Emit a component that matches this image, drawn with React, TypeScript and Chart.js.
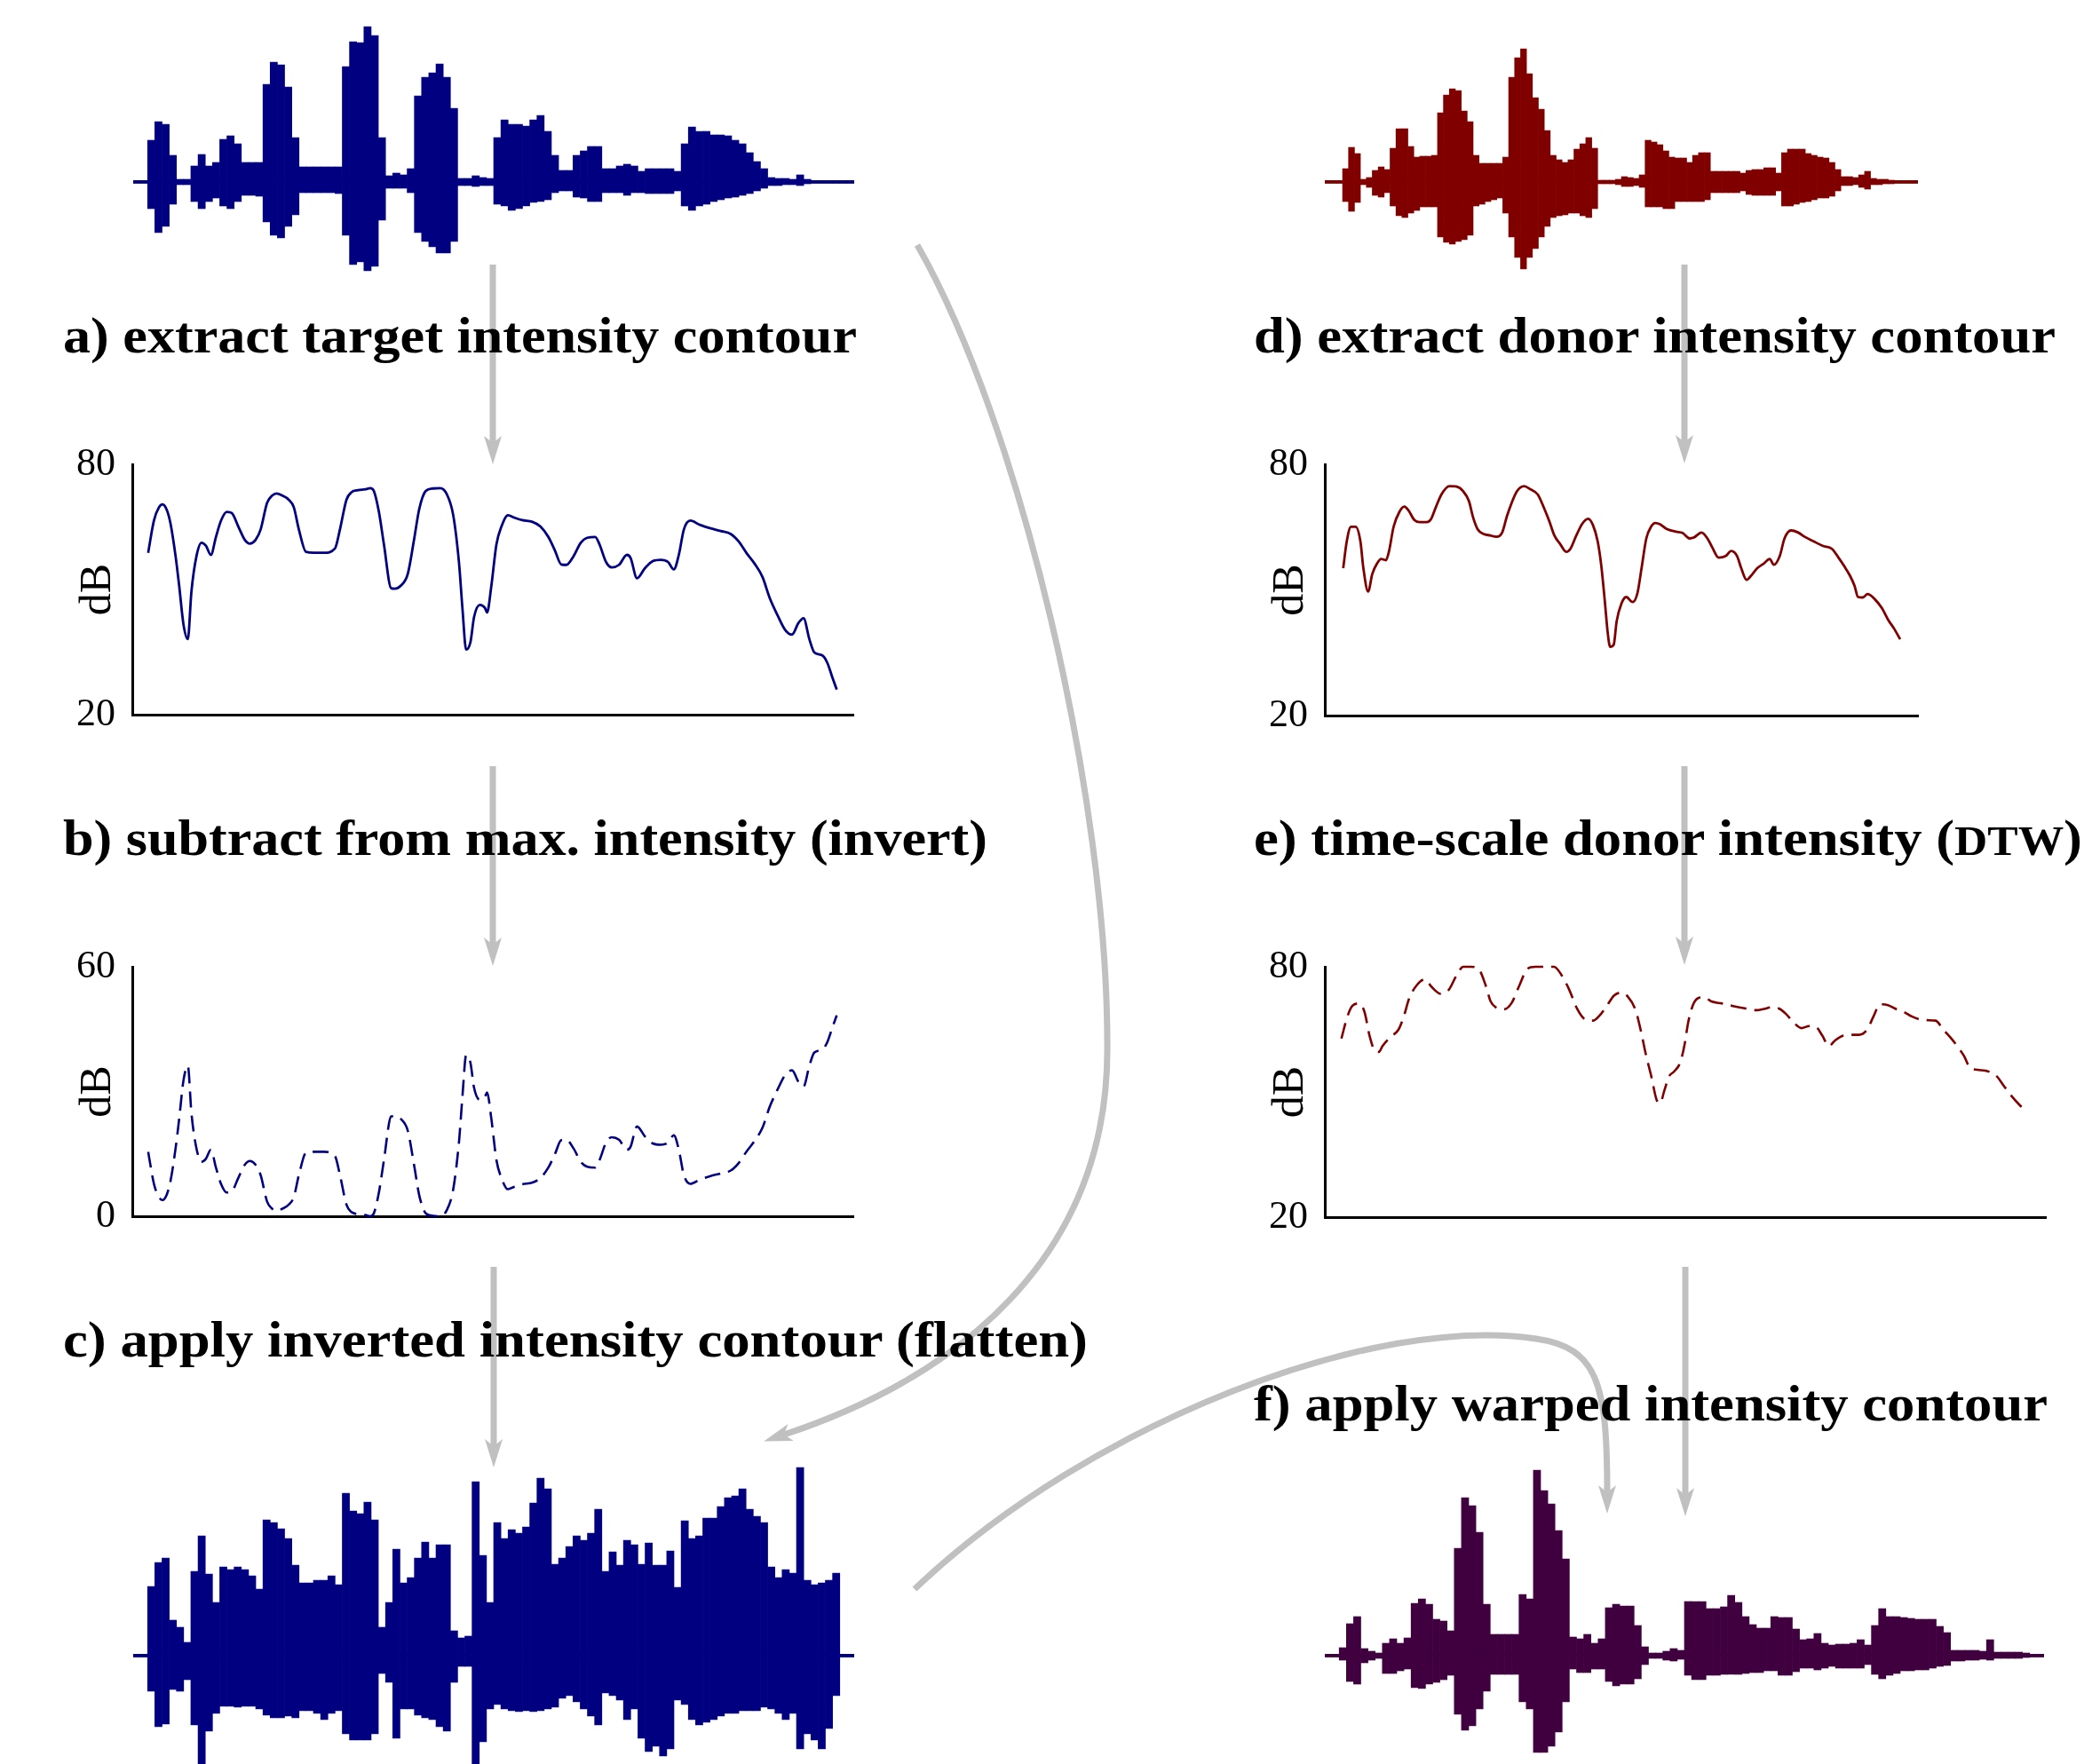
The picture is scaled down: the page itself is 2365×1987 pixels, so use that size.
import React, { useEffect, useRef } from 'react';
import { Chart, registerables } from 'chart.js';

Chart.register(...registerables);

const NAVY = '#000080';
const MAROON = '#800000';
const PURPLE = '#400040';
const ARROW = '#c0c0c0';
const SERIF = "'Liberation Serif', 'Times New Roman', serif";

// ---------- waveform envelopes (amplitude above / below the zero line, per time slot) ----------
const TL_UP = [1.5,1.5,47,68,65,30,3,3,18,31,18,22,48,52,43,22,22,22,110,135,132,107,50,17,17,17,17,17,17,130,158,157,175,165,50,7,10,8,15,97,118,123,133,118,83,4,4,7,5,4,50,70,65,65,63,70,75,57,30,13,13,30,35,40,40,15,15,18,20,18,12,15,15,15,15,12,43,62,57,57,53,53,52,47,43,33,23,15,5,4,4,3,8,3,1.5,1.5,1.5,1.5,1.5,1.5];
const TL_DOWN = [1.5,1.5,30,57,50,25,3,3,22,30,22,18,27,30,22,15,15,16,45,60,63,50,37,12,12,12,12,12,13,60,93,90,100,95,43,7,7,7,12,57,67,73,80,80,67,4,4,5,4,4,25,27,32,30,27,23,22,20,12,10,10,17,18,22,22,12,12,12,15,12,12,13,13,13,13,10,27,32,27,25,22,20,18,17,15,13,10,7,4,4,3,3,4,2,1.5,1.5,1.5,1.5,1.5,1.5];

const TR_UP = [1.5,1.5,1.5,15,39,32,3,5,13,17,14,38,60,60,40,28,29,29,30,78,98,105,103,80,68,30,21,21,21,21,28,118,140,150,122,95,82,58,30,25,22,25,37,43,50,38,2,2,2,3,6,5,4,8,47,45,42,35,28,27,27,22,30,33,33,12,12,12,12,12,10,13,14,14,16,16,10,33,37,37,37,32,30,28,27,22,14,6,6,5,8,12,4,3,3,2,1.5,1.5,1.5,1.5];
const TR_DOWN = [1.5,1.5,1.5,22,33,23,3,6,15,17,12,27,38,40,35,32,28,28,28,62,68,70,67,65,60,27,25,22,20,18,35,62,85,98,85,75,62,50,40,38,37,35,35,38,40,30,2,2,2,3,5,5,4,6,28,28,28,30,30,22,22,22,22,22,20,12,12,12,12,12,10,14,15,15,15,15,10,27,27,25,23,22,20,18,18,16,10,4,4,3,6,8,3,3,2,2,1.5,1.5,1.5,1.5];

const BL_UP = [1.5,1.5,78,105,110,40,32,15,95,135,92,60,100,97,100,97,90,75,153,150,143,132,102,82,82,85,85,90,80,183,163,160,173,153,32,60,120,82,88,110,128,110,125,125,28,20,22,196,113,60,150,132,142,138,145,172,200,188,103,110,123,135,130,138,165,95,117,102,130,125,103,127,102,102,118,77,152,132,135,155,155,168,178,180,188,165,157,150,100,88,97,93,212,85,80,82,85,93,1.5,1.5];
const BL_DOWN = [1.5,1.5,40,80,77,38,40,27,78,122,85,65,57,57,58,57,57,60,67,70,70,68,70,62,62,65,72,65,62,88,95,95,95,88,20,30,93,60,60,67,70,72,80,85,30,12,12,122,97,60,55,60,62,63,62,63,62,60,58,48,45,52,60,68,78,42,45,50,72,60,93,108,102,113,105,50,55,72,78,75,72,68,65,65,62,62,62,58,60,65,72,65,105,88,95,105,82,45,1.5,1.5];

const BR_UP = [1.5,1.5,9,36,44,8,5,3,14,19,14,20,59,64,58,41,39,28,121,178,169,139,58,24,24,24,24,69,64,209,186,171,141,109,21,19,24,14,19,54,58,56,56,34,10,3,3,5,8,6,61,61,61,53,53,55,68,60,44,35,31,31,44,43,43,30,18,19,25,14,12,13,13,14,18,12,34,53,44,44,43,42,41,41,41,33,26,6,6,6,6,5,18,4,4,4,4,3,1.5,1.5];
const BR_DOWN = [1.5,1.5,5,29,32,8,5,3,20,20,17,15,36,37,32,30,27,22,66,84,79,60,40,21,21,21,21,52,60,109,109,102,86,52,15,19,19,15,15,29,34,32,32,26,10,3,3,5,6,4,22,27,27,22,22,21,21,21,20,19,19,17,17,22,22,18,14,14,16,14,12,14,14,14,14,10,21,26,22,20,17,17,16,16,14,12,11,6,6,5,5,4,5,3,3,3,3,2,1.5,1.5];

// ---------- intensity contours (time in % of axis, level in dB) ----------
const A_T = [2.2,3.0,3.7,4.2,4.8,5.3,6.0,6.5,7.1,7.7,8.2,8.9,9.6,10.2,10.9,11.6,12.3,13.1,13.8,14.7,15.6,16.3,17.1,17.8,18.7,19.4,20.0,20.8,21.7,22.4,23.1,24.1,25.2,26.6,28.1,28.8,29.7,30.4,31.3,32.3,33.0,33.5,34.2,34.9,35.9,36.4,37.3,38.2,39.1,39.8,40.7,41.7,42.7,43.6,44.5,45.3,45.8,46.3,46.9,47.4,48.2,48.9,49.2,49.8,50.5,51.2,52.1,53.0,54.1,55.5,56.6,57.7,58.6,59.5,60.2,61.2,62.2,63.1,64.2,64.8,65.7,66.5,67.5,68.6,69.1,70.0,71.1,72.2,73.3,74.3,75.1,75.8,76.5,77.4,78.7,80.1,81.6,83.0,84.1,85.2,86.3,87.4,88.4,89.5,90.6,91.5,92.4,93.1,93.9,94.6,95.7,96.4,97.1,97.7];
const A_DB = [58.8,66.5,69.7,70.4,69.0,65.8,58.0,50.9,41.6,38.1,49.5,58.0,61.2,60.5,58.3,62.6,66.5,68.6,68.3,65.1,61.9,61.0,61.9,64.4,70.8,72.5,73.0,72.5,71.5,69.7,64.4,59.0,58.8,58.8,59.8,64.4,71.5,73.3,73.8,74.0,74.3,73.6,68.6,60.8,50.3,50.2,51.0,53.7,62.2,69.3,73.6,74.2,74.3,72.9,67.9,56.6,45.2,35.6,37.4,43.4,46.3,45.6,44.5,50.9,60.8,65.1,67.8,67.2,66.6,66.2,65.1,62.6,59.4,56.0,55.9,58.0,61.2,62.4,62.6,60.8,56.6,55.3,55.9,58.3,57.6,52.7,55.1,56.8,57.1,56.6,54.8,58.3,64.4,66.5,65.5,64.7,64.0,63.3,61.5,58.7,56.2,53.0,48.0,43.8,40.2,39.2,42.0,43.1,38.1,34.9,34.2,32.4,28.9,26.0];
const B_DB = [15.5,7.8,4.6,3.9,5.3,8.5,16.3,23.4,32.7,36.2,24.8,16.3,13.1,13.8,16.0,11.7,7.8,5.7,6.0,9.2,12.4,13.3,12.4,9.9,3.5,1.8,1.3,1.8,2.8,4.6,9.9,15.3,15.5,15.5,14.5,9.9,2.8,1.0,0.5,0.3,0.0,0.7,5.7,13.5,24.0,24.1,23.3,20.6,12.1,5.0,0.7,0.1,0.0,1.4,6.4,17.7,29.1,38.7,36.9,30.9,28.0,28.7,29.8,23.4,13.5,9.2,6.5,7.1,7.7,8.1,9.2,11.7,14.9,18.3,18.4,16.3,13.1,11.9,11.7,13.5,17.7,19.0,18.4,16.0,16.7,21.6,19.2,17.5,17.2,17.7,19.5,16.0,9.9,7.8,8.8,9.6,10.3,11.0,12.8,15.6,18.1,21.3,26.3,30.5,34.1,35.1,32.3,31.2,36.2,39.4,40.1,41.9,45.4,48.3];

const D_T = [3.1,3.7,4.4,5.2,6.0,6.5,7.3,8.0,8.8,9.5,10.3,10.8,11.6,12.6,13.4,14.1,15.1,16.0,17.2,17.9,18.7,19.7,21.0,22.1,23.3,24.3,25.0,25.8,26.7,27.9,28.9,29.9,30.7,31.5,32.4,33.6,34.7,35.9,37.0,37.8,38.7,39.7,40.7,41.4,42.4,43.4,44.4,45.2,46.0,46.6,47.2,47.7,48.1,48.7,49.2,50.0,50.8,51.9,52.7,53.4,54.2,55.0,55.7,56.5,57.6,59.2,60.3,61.5,62.2,63.5,64.5,65.3,66.4,67.6,68.5,69.5,70.2,71.1,72.1,72.9,74.0,75.0,75.7,76.7,77.5,78.6,79.8,80.9,82.4,84.0,85.5,86.6,87.6,88.5,89.3,89.9,90.7,91.5,92.7,93.9,95.0,96.0,97.0];
const D_DB = [55.2,61.6,65.1,65.1,61.6,55.2,49.6,53.8,56.3,57.4,57.1,59.1,65.1,68.7,69.9,69.0,66.7,66.2,66.2,66.9,69.7,72.9,74.8,74.7,73.6,71.2,67.3,64.4,63.4,63.0,62.7,63.7,67.6,70.8,73.6,74.8,74.0,72.8,69.4,66.6,63.0,60.9,59.1,59.8,63.0,65.8,67.0,65.5,61.6,55.9,47.4,39.7,36.4,36.9,42.5,46.7,48.3,47.1,49.2,55.2,62.3,65.1,66.0,65.7,64.6,63.9,63.6,62.3,62.5,63.7,62.3,60.2,57.7,58.1,59.3,58.1,55.2,52.4,53.8,55.2,56.3,57.4,56.0,58.1,62.3,64.2,63.7,62.7,61.6,60.5,59.8,57.7,55.6,53.5,51.0,48.3,48.2,49.0,47.8,45.7,42.8,40.7,38.2];

const E_T = [2.3,3.1,3.8,4.7,5.5,6.2,6.9,7.5,8.0,9.1,10.2,10.9,11.7,12.8,13.9,14.8,16.1,17.2,18.2,19.2,20.2,21.3,22.3,23.0,23.7,24.8,25.9,27.0,28.1,29.2,30.7,31.8,32.8,33.9,35.0,36.1,37.2,38.0,39.1,40.1,41.1,42.0,43.1,43.8,44.5,45.3,46.0,46.5,47.1,47.7,48.5,49.3,49.9,50.4,51.1,51.8,52.6,53.6,55.1,56.6,58.4,59.9,60.9,62.0,63.1,63.9,65.0,66.1,67.2,68.1,69.0,69.9,70.8,71.9,73.0,74.1,75.2,76.1,77.0,78.1,79.2,80.3,81.4,82.5,83.6,84.7,85.8,86.9,88.0,88.7,89.4,90.5,91.6,93.1,94.2,95.3,96.4,97.1];
const E_DB = [62.8,67.9,70.6,71.2,69.2,63.5,60.0,59.6,61.0,63.2,64.9,67.8,72.4,75.7,77.0,75.2,73.5,74.5,77.7,80,80,79.5,75.6,71.7,70.3,69.8,71.3,75.6,79.5,80,80,80,78.1,74.5,69.9,67.4,67.1,68.1,70.6,73.1,73.8,72.9,69.6,64.9,59.2,53.6,48.2,47.3,50.4,53.6,55.0,57.1,61.4,66.7,71.0,72.5,72.7,71.7,71.2,70.6,70.0,69.6,69.9,70.3,69.9,68.8,66.7,65.3,65.8,65.6,63.5,61.0,62.4,63.5,63.7,63.7,64.9,68.1,71.0,70.8,69.9,69.2,68.1,67.4,67.2,67.1,64.9,62.8,60.3,58.5,56.0,55.3,55.1,53.9,51.4,48.9,46.8,45.7];

// ---------- step captions ----------
const LABELS = [
  { id: 'a', x: 71, y: 397, w: 894, parts: ['a) extract target intensity contour'] },
  { id: 'b', x: 71, y: 963, w: 1041, parts: ['b) subtract from max. intensity (invert)'] },
  { id: 'c', x: 71, y: 1528, w: 1154, parts: ['c) apply inverted intensity contour (flatten)'] },
  { id: 'd', x: 1412, y: 397, w: 903, parts: ['d) extract donor intensity contour'] },
  { id: 'e', x: 1412, y: 963, w: 933, parts: ['e) time-scale donor intensity (', 'DTW', ')'] },
  { id: 'f', x: 1412, y: 1600, w: 894, parts: ['f) apply warped intensity contour'] },
];

// ---------- gray connector arrows ----------
const ARROW_PATHS = [
  'M555 298 V499',
  'M555 863 V1064',
  'M556 1427 V1629',
  'M1897 298 V498',
  'M1897 863 V1063',
  'M1898 1427 V1684',
  'M1033 276 C1150 480 1247 900 1247 1176 C1250 1420 1073 1553 883 1616',
  'M1030 1790 C1230 1600 1550 1480 1730 1508 C1800 1518 1810 1560 1810 1681',
];

function waveChart(up: number[], down: number[], color: string, yMin: number, yMax: number): any {
  return {
    type: 'bar',
    data: {
      labels: up.map((_, i) => String(i)),
      datasets: [
        {
          data: up.map((u, i) => [-down[i], u]),
          backgroundColor: color,
          borderWidth: 0,
          barPercentage: 1,
          categoryPercentage: 1,
        },
      ],
    },
    options: {
      animation: false,
      responsive: false,
      maintainAspectRatio: false,
      events: [],
      layout: { padding: 0 },
      plugins: { legend: { display: false }, tooltip: { enabled: false } },
      scales: {
        x: { display: false },
        y: {
          display: true,
          min: yMin,
          max: yMax,
          ticks: { display: false, stepSize: -yMin },
          border: { display: false },
          grid: {
            drawTicks: false,
            lineWidth: 3.2,
            color: (ctx: any) => (ctx.tick && ctx.tick.value === 0 ? color : 'rgba(0,0,0,0)'),
          },
          afterFit: (s: any) => {
            s.width = 0;
          },
        },
      },
    },
  };
}

function lineChart(
  xs: number[],
  ys: number[],
  color: string,
  dashed: boolean,
  yMin: number,
  yMax: number,
  padV: number,
  padRight: number,
  yWidth: number
): any {
  return {
    type: 'line',
    data: {
      datasets: [
        {
          data: xs.map((x, i) => ({ x, y: ys[i] })),
          borderColor: color,
          borderWidth: dashed ? 2.6 : 2.8,
          borderDash: dashed ? [18, 9] : [],
          pointRadius: 0,
          fill: false,
          cubicInterpolationMode: 'monotone',
          clip: false,
        },
      ],
    },
    options: {
      animation: false,
      responsive: false,
      maintainAspectRatio: false,
      events: [],
      layout: { padding: { top: padV, right: padRight, bottom: padV, left: 0 } },
      plugins: { legend: { display: false }, tooltip: { enabled: false } },
      scales: {
        x: {
          type: 'linear',
          min: 0,
          max: 100,
          ticks: { display: false },
          grid: { display: false, drawTicks: false },
          border: { display: true, color: '#000', width: 3 },
          afterFit: (s: any) => {
            s.height = 0;
          },
        },
        y: {
          type: 'linear',
          min: yMin,
          max: yMax,
          ticks: {
            stepSize: yMax - yMin,
            color: '#000',
            padding: 19,
            font: { family: SERIF, size: 44 },
          },
          grid: { display: false, drawTicks: false },
          border: { display: true, color: '#000', width: 3 },
          title: {
            display: true,
            text: 'dB',
            color: '#000',
            padding: { top: 31, bottom: 0 },
            font: { family: SERIF, size: 50 },
          },
          afterFit: (s: any) => {
            s.width = yWidth;
          },
        },
      },
    },
  };
}

type BoxProps = { left: number; top: number; width: number; height: number; make: () => any };

function ChartBox({ left, top, width, height, make }: BoxProps) {
  const ref = useRef<HTMLCanvasElement | null>(null);
  useEffect(() => {
    if (!ref.current) return;
    const chart = new Chart(ref.current, make());
    return () => chart.destroy();
  }, []);
  return (
    <canvas
      ref={ref}
      width={width}
      height={height}
      style={{ position: 'absolute', left, top, width, height, display: 'block' }}
    />
  );
}

export default function App() {
  useEffect(() => {
    document.body.style.overflow = 'hidden';
    document.body.style.background = '#ffffff';
  }, []);

  return (
    <div style={{ position: 'absolute', left: 0, top: 0, width: 2365, height: 1987, background: '#fff', overflow: 'hidden' }}>
      {/* waveforms */}
      <ChartBox left={150} top={25} width={812} height={360} make={() => waveChart(TL_UP, TL_DOWN, NAVY, -180, 180)} />
      <ChartBox left={1492} top={25} width={668} height={360} make={() => waveChart(TR_UP, TR_DOWN, MAROON, -180, 180)} />
      <ChartBox left={150} top={1645} width={812} height={342} make={() => waveChart(BL_UP, BL_DOWN, NAVY, -122, 220)} />
      <ChartBox left={1492} top={1645} width={810} height={342} make={() => waveChart(BR_UP, BR_DOWN, PURPLE, -122, 220)} />

      {/* intensity contours: plot area a 149-961 x 523-805, b 149-961 x 1089-1370, d 1492-2160 x 523-806, e 1492-2304 x 1089-1371 */}
      <ChartBox left={50} top={475} width={930} height={378}
        make={() => lineChart(A_T, A_DB, NAVY, false, 20, 80, 48, 19, 99)} />
      <ChartBox left={50} top={1041} width={930} height={377}
        make={() => lineChart(A_T, B_DB, NAVY, true, 0, 60, 48, 19, 99)} />
      <ChartBox left={1393} top={475} width={790} height={379}
        make={() => lineChart(D_T, D_DB, MAROON, false, 20, 80, 48, 23, 99)} />
      <ChartBox left={1393} top={1041} width={930} height={378}
        make={() => lineChart(E_T, E_DB, MAROON, true, 20, 80, 48, 19, 99)} />

      {/* arrows and captions */}
      <svg width={2365} height={1987} style={{ position: 'absolute', left: 0, top: 0, zIndex: 2, pointerEvents: 'none' }}>
        <defs>
          <marker id="ah" markerUnits="userSpaceOnUse" viewBox="0 0 32 24" markerWidth={32} markerHeight={24} refX={8} refY={12} orient="auto">
            <path d="M0,2 L32,12 L0,22 L8,12 Z" fill={ARROW} />
          </marker>
        </defs>
        {ARROW_PATHS.map((d, i) => (
          <path key={i} d={d} stroke={ARROW} strokeWidth={7} fill="none" markerEnd="url(#ah)" />
        ))}
        {LABELS.map((l) => (
          <text
            key={l.id}
            x={l.x}
            y={l.y}
            textLength={l.w}
            lengthAdjust="spacingAndGlyphs"
            fontFamily={SERIF}
            fontWeight={700}
            fontSize={56}
            fill="#000"
          >
            {l.parts.length === 1 ? (
              l.parts[0]
            ) : (
              <>
                {l.parts[0]}
                <tspan fontSize={46}>{l.parts[1]}</tspan>
                {l.parts[2]}
              </>
            )}
          </text>
        ))}
      </svg>
    </div>
  );
}
